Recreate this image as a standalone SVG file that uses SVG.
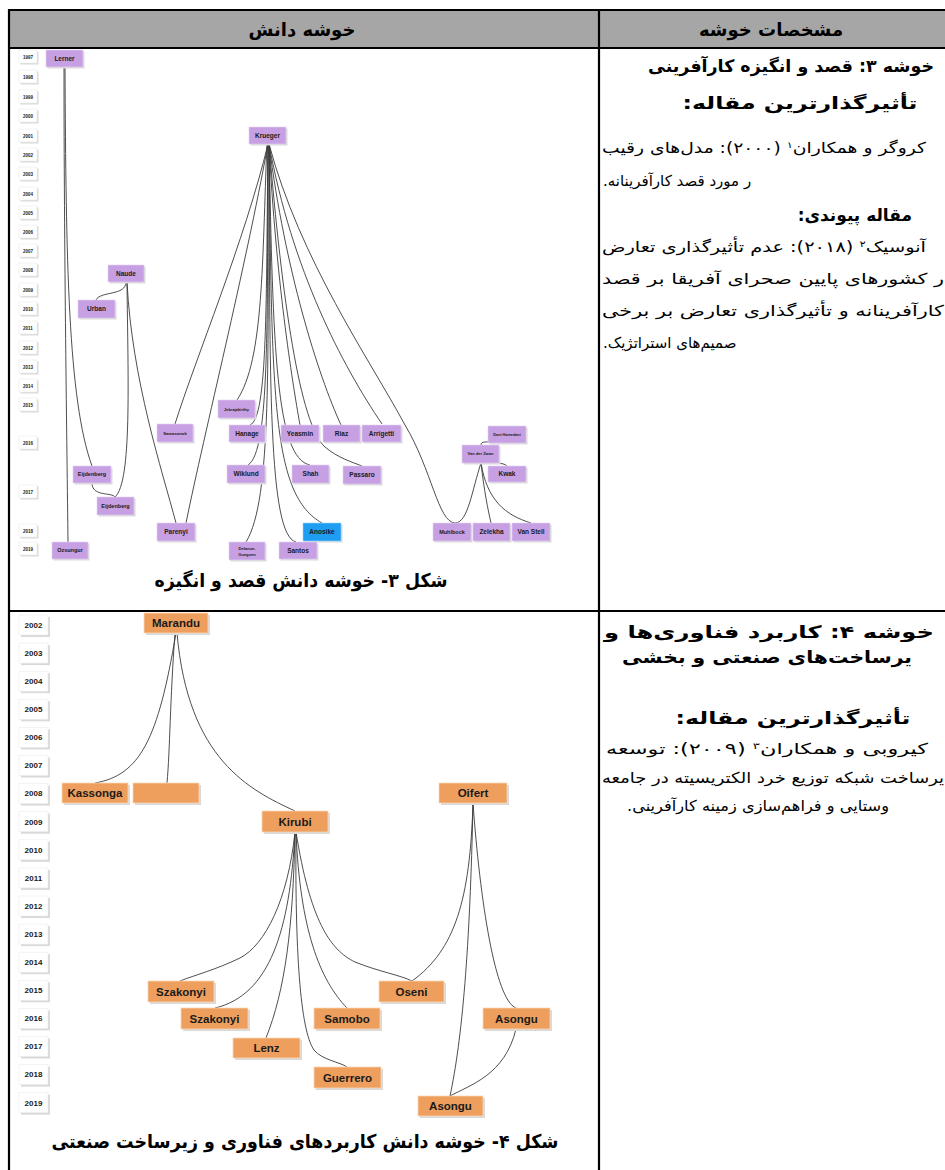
<svg xmlns="http://www.w3.org/2000/svg" width="945" height="1170" viewBox="0 0 945 1170">
<style>
.tb{stroke:#000;stroke-width:2.2;fill:none}
.sh{fill:#d9d9d9}
.p{fill:#c7a0e3;stroke:#e3d2f1;stroke-width:0.6}
.b{fill:#1f9df2;stroke:#9fd3f8;stroke-width:0.6}
.o{fill:#ee9f5d;stroke:#fbd7b5;stroke-width:0.8}
.y{fill:#fff;stroke:#ececec;stroke-width:0.6}
.l{font-family:'Liberation Sans',Arial,sans-serif;font-weight:bold;fill:#1a1a1a;text-anchor:middle}
.fa{font-family:'DejaVu Sans',sans-serif;fill:#000;direction:rtl}
.fb{font-weight:bold}
.cn path{fill:none;stroke:#3a3a3a;stroke-width:0.9}
</style>
<defs>
<clipPath id="rc"><rect x="601" y="49" width="344" height="1121"/></clipPath>
</defs>
<rect width="945" height="1170" fill="#fff"/>
<g id="table">
<rect x="9" y="10" width="936" height="38" fill="#a6a6a6"/>
<line class="tb" x1="8" y1="10" x2="945" y2="10"/>
<line class="tb" x1="8" y1="48" x2="945" y2="48"/>
<line class="tb" x1="8" y1="611" x2="945" y2="611"/>
<line class="tb" x1="9" y1="9" x2="9" y2="1170"/>
<line class="tb" x1="599" y1="9" x2="599" y2="1170"/>
<text class="fa fb" x="302" y="36" font-size="18" text-anchor="middle">خوشه دانش</text>
<text class="fa fb" x="771" y="36" font-size="18" text-anchor="middle">مشخصات خوشه</text>
</g>
<g id="years-top" font-size="4.5">
<g class="l">
<rect class="sh" x="20.5" y="51.5" width="18" height="13"/><rect class="y" x="19" y="50" width="18" height="13"/><text x="28" y="58.5">1997</text>
<rect class="sh" x="20.5" y="71.5" width="18" height="13"/><rect class="y" x="19" y="70" width="18" height="13"/><text x="28" y="78.5">1998</text>
<rect class="sh" x="20.5" y="91.5" width="18" height="13"/><rect class="y" x="19" y="90" width="18" height="13"/><text x="28" y="98.5">1999</text>
<rect class="sh" x="20.5" y="110.5" width="18" height="13"/><rect class="y" x="19" y="109" width="18" height="13"/><text x="28" y="117.5">2000</text>
<rect class="sh" x="20.5" y="130.5" width="18" height="13"/><rect class="y" x="19" y="129" width="18" height="13"/><text x="28" y="137.5">2001</text>
<rect class="sh" x="20.5" y="149.5" width="18" height="13"/><rect class="y" x="19" y="148" width="18" height="13"/><text x="28" y="156.5">2002</text>
<rect class="sh" x="20.5" y="168.5" width="18" height="13"/><rect class="y" x="19" y="167" width="18" height="13"/><text x="28" y="175.5">2003</text>
<rect class="sh" x="20.5" y="188.5" width="18" height="13"/><rect class="y" x="19" y="187" width="18" height="13"/><text x="28" y="195.5">2004</text>
<rect class="sh" x="20.5" y="207.5" width="18" height="13"/><rect class="y" x="19" y="206" width="18" height="13"/><text x="28" y="214.5">2005</text>
<rect class="sh" x="20.5" y="226.5" width="18" height="13"/><rect class="y" x="19" y="225" width="18" height="13"/><text x="28" y="233.5">2006</text>
<rect class="sh" x="20.5" y="245.5" width="18" height="13"/><rect class="y" x="19" y="244" width="18" height="13"/><text x="28" y="252.5">2007</text>
<rect class="sh" x="20.5" y="264.5" width="18" height="13"/><rect class="y" x="19" y="263" width="18" height="13"/><text x="28" y="271.5">2008</text>
<rect class="sh" x="20.5" y="284.5" width="18" height="13"/><rect class="y" x="19" y="283" width="18" height="13"/><text x="28" y="291.5">2009</text>
<rect class="sh" x="20.5" y="303.5" width="18" height="13"/><rect class="y" x="19" y="302" width="18" height="13"/><text x="28" y="310.5">2010</text>
<rect class="sh" x="20.5" y="322.5" width="18" height="13"/><rect class="y" x="19" y="321" width="18" height="13"/><text x="28" y="329.5">2011</text>
<rect class="sh" x="20.5" y="342.5" width="18" height="13"/><rect class="y" x="19" y="341" width="18" height="13"/><text x="28" y="349.5">2012</text>
<rect class="sh" x="20.5" y="361.5" width="18" height="13"/><rect class="y" x="19" y="360" width="18" height="13"/><text x="28" y="368.5">2013</text>
<rect class="sh" x="20.5" y="380.5" width="18" height="13"/><rect class="y" x="19" y="379" width="18" height="13"/><text x="28" y="387.5">2014</text>
<rect class="sh" x="20.5" y="399.5" width="18" height="13"/><rect class="y" x="19" y="398" width="18" height="13"/><text x="28" y="406.5">2015</text>
<rect class="sh" x="20.5" y="437.5" width="18" height="13"/><rect class="y" x="19" y="436" width="18" height="13"/><text x="28" y="444.5">2016</text>
<rect class="sh" x="20.5" y="486.5" width="18" height="13"/><rect class="y" x="19" y="485" width="18" height="13"/><text x="28" y="493.5">2017</text>
<rect class="sh" x="20.5" y="525.5" width="18" height="13"/><rect class="y" x="19" y="524" width="18" height="13"/><text x="28" y="532.5">2018</text>
<rect class="sh" x="20.5" y="543.5" width="18" height="13"/><rect class="y" x="19" y="542" width="18" height="13"/><text x="28" y="550.5">2019</text>
</g>
</g>
<g id="connectors-top" class="cn">
<path d="M64,67 C64,250 67,450 68,542"/>
<path d="M65,67 C66,260 68,400 92,466"/>
<path d="M126,282 C126,296 100,291 96,300"/>
<path d="M127,282 C128,380 132,482 115,497"/>
<path d="M92,483 C92,497 112,492 115,497"/>
<path d="M127,282 C132,380 162,470 176,523"/>
<path d="M268,144 C245,270 205,430 186,523"/>
<path d="M268,144 C245,240 195,360 175,424"/>
<path d="M267,144 C262,260 264,360 237,400"/>
<path d="M268,144 C266,300 268,418 250,425"/>
<path d="M268,144 C267,320 270,452 248,465"/>
<path d="M268,144 C268,360 272,500 246,542"/>
<path d="M269,144 C270,380 268,535 296,542"/>
<path d="M269,144 C272,400 272,495 322,523"/>
<path d="M269,144 C273,350 276,458 310,465"/>
<path d="M269,144 C276,280 292,380 300,425"/>
<path d="M269,144 C282,300 300,425 325,447 C338,458 352,462 362,466"/>
<path d="M269,144 C285,270 318,375 341,425"/>
<path d="M269,144 C292,270 342,365 382,424"/>
<path d="M269,144 C300,260 370,360 405,425 C432,470 438,522 455,523"/>
<path d="M481,463 C472,490 468,523 455,523"/>
<path d="M481,445 C481,441 486,442 496,442 C503,442 507,443 507,443"/>
<path d="M481,463 C490,463 504,462 507,466"/>
<path d="M481,463 C484,490 488,510 491,523"/>
<path d="M481,463 C487,500 505,515 531,523"/>
</g>
<g id="nodes-top" class="l">
<g id="n-lerner"><rect class="sh" x="47.5" y="51.5" width="37" height="17"/><rect class="p" x="46" y="50" width="37" height="17"/><text x="64.5" y="60.8" font-size="6.5">Lerner</text></g>
<g id="n-krueger"><rect class="sh" x="250.5" y="128.5" width="37" height="17"/><rect class="p" x="249" y="127" width="37" height="17"/><text x="267.5" y="137.8" font-size="6.5">Krueger</text></g>
<g id="n-naude"><rect class="sh" x="109.5" y="266.5" width="36" height="17"/><rect class="p" x="108" y="265" width="36" height="17"/><text x="126" y="275.8" font-size="6.5">Naude</text></g>
<g id="n-urban"><rect class="sh" x="79.5" y="301.5" width="37" height="18"/><rect class="p" x="78" y="300" width="37" height="18"/><text x="96.5" y="311.3" font-size="6.5">Urban</text></g>
<g id="n-jebrajakirthy"><rect class="sh" x="219.5" y="401.5" width="37" height="18"/><rect class="p" x="218" y="400" width="37" height="18"/><text x="236.5" y="410.5" font-size="4">Jebrajakirthy</text></g>
<g id="n-samasonok"><rect class="sh" x="158.5" y="425.5" width="36" height="18"/><rect class="p" x="157" y="424" width="36" height="18"/><text x="175" y="434.5" font-size="4.2">Samasonok</text></g>
<g id="n-hanage"><rect class="sh" x="230.5" y="426.5" width="36" height="17"/><rect class="p" x="229" y="425" width="36" height="17"/><text x="247" y="435.8" font-size="6.5">Hanage</text></g>
<g id="n-yeasmin"><rect class="sh" x="282.5" y="426.5" width="38" height="17"/><rect class="p" x="281" y="425" width="38" height="17"/><text x="300" y="435.8" font-size="6.5">Yeasmin</text></g>
<g id="n-riaz"><rect class="sh" x="324.5" y="426.5" width="37" height="17"/><rect class="p" x="323" y="425" width="37" height="17"/><text x="341.5" y="435.8" font-size="6.5">Riaz</text></g>
<g id="n-arrigetti"><rect class="sh" x="363.5" y="426.5" width="39" height="17"/><rect class="p" x="362" y="425" width="39" height="17"/><text x="381.5" y="435.8" font-size="6.5">Arrigetti</text></g>
<g id="n-wiklund"><rect class="sh" x="228.5" y="466.5" width="38" height="18"/><rect class="p" x="227" y="465" width="38" height="18"/><text x="246" y="476.3" font-size="6.5">Wiklund</text></g>
<g id="n-shah"><rect class="sh" x="293.5" y="466.5" width="37" height="18"/><rect class="p" x="292" y="465" width="37" height="18"/><text x="310.5" y="476.3" font-size="6.5">Shah</text></g>
<g id="n-passaro"><rect class="sh" x="344.5" y="467.5" width="38" height="18"/><rect class="p" x="343" y="466" width="38" height="18"/><text x="362" y="477.3" font-size="6.5">Passaro</text></g>
<g id="n-anosike"><rect class="sh" x="304.5" y="524.5" width="38" height="18"/><rect class="b" x="303" y="523" width="38" height="18"/><text x="322" y="534.3" font-size="6.5">Anosike</text></g>
<g id="n-delanoe"><rect class="sh" x="230.5" y="543.5" width="36" height="18"/><rect class="p" x="229" y="542" width="36" height="18"/><text x="247" y="549.5" font-size="4">Delanoe-</text><text x="247" y="556" font-size="4">Gueguen</text></g>
<g id="n-santos"><rect class="sh" x="280.5" y="543.5" width="38" height="17"/><rect class="p" x="279" y="542" width="38" height="17"/><text x="298" y="552.8" font-size="6.5">Santos</text></g>
<g id="n-muhlbock"><rect class="sh" x="434.5" y="524.5" width="38" height="18"/><rect class="p" x="433" y="523" width="38" height="18"/><text x="452" y="534" font-size="5.5">Muhlbock</text></g>
<g id="n-zelekha"><rect class="sh" x="474.5" y="524.5" width="37" height="18"/><rect class="p" x="473" y="523" width="37" height="18"/><text x="491.5" y="534.3" font-size="6.5">Zelekha</text></g>
<g id="n-vanstell"><rect class="sh" x="513.5" y="524.5" width="38" height="18"/><rect class="p" x="512" y="523" width="38" height="18"/><text x="531" y="534.3" font-size="6.5">Van Stell</text></g>
<g id="n-danihamedani"><rect class="sh" x="489.5" y="427.5" width="38" height="17"/><rect class="p" x="488" y="426" width="38" height="17"/><text x="507" y="435.8" font-size="3.8">Dani Hamedani</text></g>
<g id="n-vanderzwan"><rect class="sh" x="463.5" y="446.5" width="37" height="18"/><rect class="p" x="462" y="445" width="37" height="18"/><text x="480.5" y="455.4" font-size="4">Van der Zwan</text></g>
<g id="n-kwak"><rect class="sh" x="489.5" y="467.5" width="38" height="16"/><rect class="p" x="488" y="466" width="38" height="16"/><text x="507" y="476.3" font-size="6.5">Kwak</text></g>
<g id="n-eijdenberg1"><rect class="sh" x="74.5" y="467.5" width="38" height="17"/><rect class="p" x="73" y="466" width="38" height="17"/><text x="92" y="476.4" font-size="5.5">Eijdenberg</text></g>
<g id="n-eijdenberg2"><rect class="sh" x="98.5" y="498.5" width="37" height="18"/><rect class="p" x="97" y="497" width="37" height="18"/><text x="115.5" y="507.9" font-size="5.5">Eijdenberg</text></g>
<g id="n-parenyi"><rect class="sh" x="158.5" y="524.5" width="38" height="18"/><rect class="p" x="157" y="523" width="38" height="18"/><text x="176" y="534.3" font-size="6.5">Parenyi</text></g>
<g id="n-ozsungur"><rect class="sh" x="53.5" y="543.5" width="36" height="17"/><rect class="p" x="52" y="542" width="36" height="17"/><text x="70" y="552.4" font-size="5.5">Ozsungur</text></g>
</g>
<text id="caption-3" class="fa fb" x="301" y="587" font-size="19" text-anchor="middle" textLength="293" lengthAdjust="spacingAndGlyphs">شکل ۳- خوشه دانش قصد و انگیزه</text>
<g id="years-bottom" class="l" font-size="8">
<rect class="sh" x="21" y="617" width="29" height="20"/><rect class="y" x="19" y="615" width="29" height="20"/><text x="33.5" y="627.8">2002</text>
<rect class="sh" x="21" y="645.1" width="29" height="20"/><rect class="y" x="19" y="643.1" width="29" height="20"/><text x="33.5" y="655.9">2003</text>
<rect class="sh" x="21" y="673.2" width="29" height="20"/><rect class="y" x="19" y="671.2" width="29" height="20"/><text x="33.5" y="684">2004</text>
<rect class="sh" x="21" y="701.3" width="29" height="20"/><rect class="y" x="19" y="699.3" width="29" height="20"/><text x="33.5" y="712.1">2005</text>
<rect class="sh" x="21" y="729.4" width="29" height="20"/><rect class="y" x="19" y="727.4" width="29" height="20"/><text x="33.5" y="740.2">2006</text>
<rect class="sh" x="21" y="757.5" width="29" height="20"/><rect class="y" x="19" y="755.5" width="29" height="20"/><text x="33.5" y="768.3">2007</text>
<rect class="sh" x="21" y="785.6" width="29" height="20"/><rect class="y" x="19" y="783.6" width="29" height="20"/><text x="33.5" y="796.4">2008</text>
<rect class="sh" x="21" y="813.7" width="29" height="20"/><rect class="y" x="19" y="811.7" width="29" height="20"/><text x="33.5" y="824.5">2009</text>
<rect class="sh" x="21" y="841.8" width="29" height="20"/><rect class="y" x="19" y="839.8" width="29" height="20"/><text x="33.5" y="852.6">2010</text>
<rect class="sh" x="21" y="869.9" width="29" height="20"/><rect class="y" x="19" y="867.9" width="29" height="20"/><text x="33.5" y="880.7">2011</text>
<rect class="sh" x="21" y="898" width="29" height="20"/><rect class="y" x="19" y="896" width="29" height="20"/><text x="33.5" y="908.8">2012</text>
<rect class="sh" x="21" y="926.1" width="29" height="20"/><rect class="y" x="19" y="924.1" width="29" height="20"/><text x="33.5" y="936.9">2013</text>
<rect class="sh" x="21" y="954.2" width="29" height="20"/><rect class="y" x="19" y="952.2" width="29" height="20"/><text x="33.5" y="965">2014</text>
<rect class="sh" x="21" y="982.3" width="29" height="20"/><rect class="y" x="19" y="980.3" width="29" height="20"/><text x="33.5" y="993.1">2015</text>
<rect class="sh" x="21" y="1010.4" width="29" height="20"/><rect class="y" x="19" y="1008.4" width="29" height="20"/><text x="33.5" y="1021.2">2016</text>
<rect class="sh" x="21" y="1038.5" width="29" height="20"/><rect class="y" x="19" y="1036.5" width="29" height="20"/><text x="33.5" y="1049.3">2017</text>
<rect class="sh" x="21" y="1066.6" width="29" height="20"/><rect class="y" x="19" y="1064.6" width="29" height="20"/><text x="33.5" y="1077.4">2018</text>
<rect class="sh" x="21" y="1094.7" width="29" height="20"/><rect class="y" x="19" y="1092.7" width="29" height="20"/><text x="33.5" y="1105.5">2019</text>
</g>
<g id="connectors-bottom" class="cn">
<path d="M176,633 C158,740 140,775 95,783"/>
<path d="M175,633 C170,700 170,750 167,783"/>
<path d="M177,633 C188,760 250,790 295,811"/>
<path d="M295,832 C288,900 265,945 240,958 C215,970 195,975 180,981"/>
<path d="M295,832 C290,930 270,995 215,1008"/>
<path d="M295,832 C293,930 285,990 266,1038"/>
<path d="M296,832 C295,950 300,1030 314,1050 C322,1060 340,1062 347,1067"/>
<path d="M296,832 C300,930 320,980 347,1008"/>
<path d="M296,832 C310,920 330,950 355,962 C380,972 400,975 412,981"/>
<path d="M473,803 C470,900 455,950 412,981"/>
<path d="M473,803 C470,950 462,1040 450,1096"/>
<path d="M473,803 C480,900 495,1000 516,1008"/>
<path d="M516,1029 C505,1075 470,1085 450,1096"/>
</g>
<g id="nodes-bottom" class="l" font-size="11.5">
<g id="n-marandu"><rect class="sh" x="146" y="615" width="64" height="20"/><rect class="o" x="144" y="613" width="64" height="20"/><text x="176" y="627">Marandu</text></g>
<g id="n-kassonga"><rect class="sh" x="64" y="785" width="66" height="20"/><rect class="o" x="62" y="783" width="66" height="20"/><text x="95" y="797">Kassonga</text></g>
<g id="n-empty"><rect class="sh" x="135" y="785" width="66" height="20"/><rect class="o" x="133" y="783" width="66" height="20"/></g>
<g id="n-kirubi"><rect class="sh" x="264" y="813" width="66" height="21"/><rect class="o" x="262" y="811" width="66" height="21"/><text x="295" y="825.5">Kirubi</text></g>
<g id="n-oifert"><rect class="sh" x="441" y="785" width="68" height="20"/><rect class="o" x="439" y="783" width="68" height="20"/><text x="473" y="797">Oifert</text></g>
<g id="n-szakonyi1"><rect class="sh" x="150" y="983" width="66" height="21"/><rect class="o" x="148" y="981" width="66" height="21"/><text x="181" y="995.5">Szakonyi</text></g>
<g id="n-szakonyi2"><rect class="sh" x="183" y="1010" width="67" height="21"/><rect class="o" x="181" y="1008" width="67" height="21"/><text x="214.5" y="1022.5">Szakonyi</text></g>
<g id="n-lenz"><rect class="sh" x="235" y="1040" width="67" height="20"/><rect class="o" x="233" y="1038" width="67" height="20"/><text x="266.5" y="1052">Lenz</text></g>
<g id="n-samobo"><rect class="sh" x="316" y="1010" width="66" height="21"/><rect class="o" x="314" y="1008" width="66" height="21"/><text x="347" y="1022.5">Samobo</text></g>
<g id="n-guerrero"><rect class="sh" x="316" y="1069" width="67" height="21"/><rect class="o" x="314" y="1067" width="67" height="21"/><text x="347.5" y="1081.5">Guerrero</text></g>
<g id="n-oseni"><rect class="sh" x="381" y="983" width="65" height="21"/><rect class="o" x="379" y="981" width="65" height="21"/><text x="411.5" y="995.5">Oseni</text></g>
<g id="n-asongu1"><rect class="sh" x="485" y="1010" width="67" height="21"/><rect class="o" x="483" y="1008" width="67" height="21"/><text x="516.5" y="1022.5">Asongu</text></g>
<g id="n-asongu2"><rect class="sh" x="420" y="1098" width="65" height="20"/><rect class="o" x="418" y="1096" width="65" height="20"/><text x="450.5" y="1110">Asongu</text></g>
</g>
<text id="caption-4" class="fa fb" x="305" y="1148" font-size="19" text-anchor="middle" textLength="507" lengthAdjust="spacingAndGlyphs">شکل ۴- خوشه دانش کاربردهای فناوری و زیرساخت صنعتی</text>
<g id="cluster-3-text" clip-path="url(#rc)">
<text class="fa fb" x="791" y="72" font-size="17" text-anchor="middle" textLength="286" lengthAdjust="spacingAndGlyphs">خوشه ۳: قصد و انگیزه کارآفرینی</text>
<text class="fa fb" x="800" y="109" font-size="17" text-anchor="middle" textLength="235" lengthAdjust="spacingAndGlyphs">تأثیرگذارترین مقاله:</text>
<text class="fa" x="764" y="153" font-size="15" text-anchor="middle" textLength="324" lengthAdjust="spacingAndGlyphs">کروگر و همکاران<tspan font-size="9" dy="-5">۱</tspan><tspan dy="5"> (۲۰۰۰): مدل‌های رقیب</tspan></text>
<text class="fa" x="603" y="186" font-size="15" text-anchor="end">ر مورد قصد کارآفرینانه.</text>
<text class="fa fb" x="912" y="221" font-size="17" text-anchor="start">مقاله پیوندی:</text>
<text class="fa" x="764" y="252" font-size="15" text-anchor="middle" textLength="324" lengthAdjust="spacingAndGlyphs">آنوسیک<tspan font-size="9" dy="-5">۲</tspan><tspan dy="5"> (۲۰۱۸): عدم تأثیرگذاری تعارض</tspan></text>
<text class="fa" x="773" y="284" font-size="15" text-anchor="middle" textLength="342" lengthAdjust="spacingAndGlyphs">ر کشورهای پایین صحرای آفریقا بر قصد</text>
<text class="fa" x="773" y="316" font-size="15" text-anchor="middle" textLength="342" lengthAdjust="spacingAndGlyphs">کارآفرینانه و تأثیرگذاری تعارض بر برخی</text>
<text class="fa" x="603" y="348" font-size="15" text-anchor="end">صمیم‌های استراتژیک.</text>
</g>
<g id="cluster-4-text" clip-path="url(#rc)">
<text class="fa fb" x="769" y="638" font-size="17" text-anchor="middle" textLength="330" lengthAdjust="spacingAndGlyphs">خوشه ۴: کاربرد فناوری‌ها و</text>
<text class="fa fb" x="767" y="663" font-size="17" text-anchor="middle" textLength="290" lengthAdjust="spacingAndGlyphs">یرساخت‌های صنعتی و بخشی</text>
<text class="fa fb" x="793" y="724" font-size="17" text-anchor="middle" textLength="235" lengthAdjust="spacingAndGlyphs">تأثیرگذارترین مقاله:</text>
<text class="fa" x="767" y="754" font-size="15" text-anchor="middle" textLength="322" lengthAdjust="spacingAndGlyphs">کیروبی و همکاران<tspan font-size="9" dy="-5">۳</tspan><tspan dy="5"> (۲۰۰۹): توسعه</tspan></text>
<text class="fa" x="773" y="783" font-size="15" text-anchor="middle" textLength="342" lengthAdjust="spacingAndGlyphs">یرساخت شبکه توزیع خرد الکتریسیته در جامعه</text>
<text class="fa" x="758" y="811" font-size="15" text-anchor="middle" textLength="262" lengthAdjust="spacingAndGlyphs">وستایی و فراهم‌سازی زمینه کارآفرینی.</text>
</g>
</svg>
